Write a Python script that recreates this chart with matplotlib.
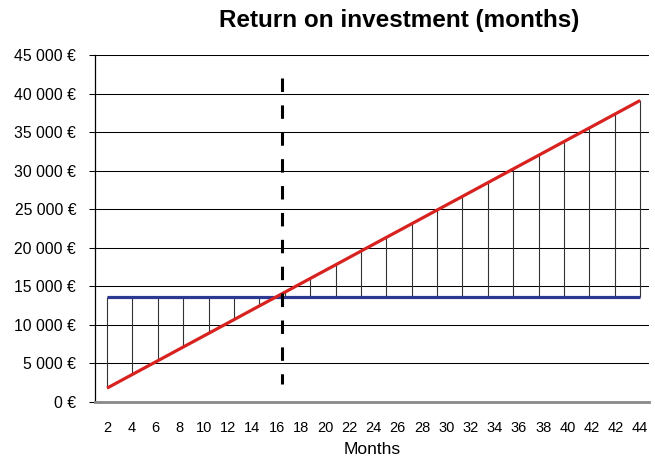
import matplotlib
matplotlib.use("Agg")
import matplotlib.pyplot as plt
import numpy as np

plt.rcParams['font.family'] = ['Liberation Sans', 'DejaVu Sans']

months = [2, 4, 6, 8, 10, 12, 14, 16, 18, 20, 22, 24, 26, 28, 30, 32, 34, 36, 38, 40, 42, 44]
returns = [1800, 3580, 5350, 7130, 8900, 10680, 12460, 14230, 16010, 17780, 19560,
           21340, 23110, 24890, 26660, 28440, 30220, 31990, 33770, 35540, 37320, 39100]
investment = [13650] * len(months)
tick_labels = ['2', '4', '6', '8', '10', '12', '14', '16', '18', '20', '22', '24', '26',
               '28', '30', '32', '34', '36', '38', '40', '42', '42', '44']
breakeven_month = 15.8
breakeven_span = [42000, 2300]
y_ticks = [0, 5000, 10000, 15000, 20000, 25000, 30000, 35000, 40000, 45000]

fig = plt.figure(figsize=(6.55, 4.62), dpi=100)
ax = fig.add_axes([95/655, 1 - 402/462, (649-95)/655, (402-55)/462])

ax.set_ylim(0, 45000)
ax.set_xlim(1.05, 44.7)

ax.set_yticks(y_ticks)
ax.set_yticklabels([f"{v:,}".replace(",", " ") + " €" for v in y_ticks], fontsize=11.3)
ax.yaxis.grid(True, color='black', linewidth=0.75)
ax.set_axisbelow(True)
ax.tick_params(axis='y', length=4.5, width=0.75, pad=9, color='black')

ax.set_xticks(np.linspace(months[0], months[-1], len(tick_labels)))
ax.set_xticklabels(tick_labels, fontsize=10.5)
ax.tick_params(axis='x', length=0, pad=14)

for s in ['top', 'right']:
    ax.spines[s].set_visible(False)
ax.spines['left'].set_color('black')
ax.spines['left'].set_linewidth(0.9)
ax.spines['bottom'].set_color('#888888')
ax.spines['bottom'].set_linewidth(2)

ax.vlines(months, returns, investment, colors='#333333', linewidth=0.8, zorder=2)
ax.plot(months, investment, color='#2b3990', linewidth=2.3, zorder=3, solid_capstyle='butt')
ax.plot(months, returns, color='#d7221f', linewidth=2.3, zorder=4, solid_capstyle='butt')
ln, = ax.plot([breakeven_month, breakeven_month], breakeven_span, color='black',
              linewidth=2.2, zorder=5, solid_capstyle='butt')
ln.set_dashes([4.4, 4.4])
ln.set_dash_capstyle('butt')

ax.set_xlabel('Months', fontsize=12.5, labelpad=5)
fig.text(399/655, 1 - 21/462, 'Return on investment (months)', fontsize=17.5,
         fontweight='bold', ha='center', va='center')

fig.savefig('out.png', dpi=100)
